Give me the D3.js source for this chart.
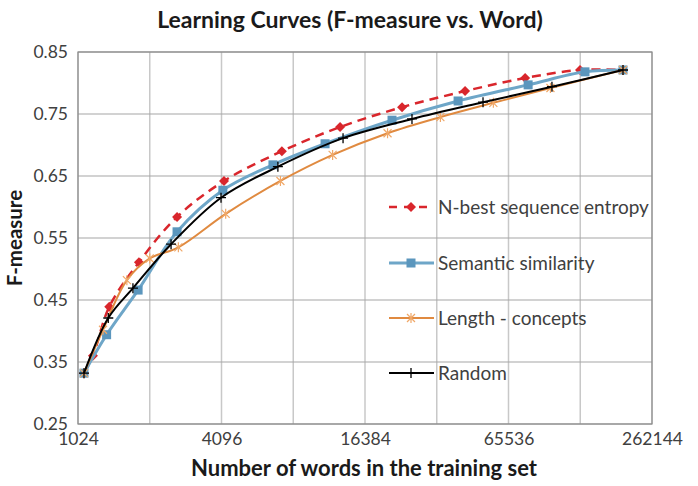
<!DOCTYPE html>
<html>
<head>
<meta charset="utf-8">
<script src="https://cdn.jsdelivr.net/npm/d3@7"></script>
<style>
  body { margin: 0; background: #fff; }
  text { font-family: Lato, "Open Sans", sans-serif; }
</style>
</head>
<body>
<div id="chart"></div>
<script>
'use strict';

// values
var xTicks = [1024, 4096, 16384, 65536, 262144];
var xGrid = [1024, 2048, 4096, 8192, 16384, 32768, 65536, 131072, 262144];
var yTicks = [0.25, 0.35, 0.45, 0.55, 0.65, 0.75, 0.85];

var nbestWords = [1085, 1183, 1385, 1845, 2666, 4197, 7340, 12877, 23433, 43082, 76960, 130740, 198100];
var nbestF = [0.332, 0.360, 0.439, 0.511, 0.584, 0.642, 0.690, 0.729, 0.761, 0.787, 0.808, 0.821, 0.821];

var semWords = [1085, 1350, 1830, 2666, 4150, 6733, 11141, 21270, 40269, 79220, 137180, 198100];
var semF = [0.332, 0.394, 0.466, 0.560, 0.627, 0.668, 0.702, 0.740, 0.771, 0.797, 0.818, 0.821];

var lenWords = [1085, 1304, 1642, 2048, 2700, 4265, 7238, 11983, 20371, 33943, 56620, 98280, 198100];
var lenF = [0.332, 0.402, 0.482, 0.517, 0.535, 0.589, 0.642, 0.684, 0.719, 0.745, 0.768, 0.792, 0.821];

var randWords = [1085, 1372, 1741, 2516, 4077, 7062, 13253, 25796, 51236, 99720, 198100];
var randF = [0.332, 0.421, 0.469, 0.540, 0.615, 0.665, 0.711, 0.742, 0.769, 0.794, 0.821];

var seriesNames = ['N-best sequence entropy', 'Semantic similarity', 'Length - concepts', 'Random'];

var width = 698, height = 486;
var margin = {top: 52, right: 46, bottom: 62, left: 78};
var w = width - margin.left - margin.right;
var h = height - margin.top - margin.bottom;

var svg = d3.select('#chart').append('svg')
  .attr('width', width)
  .attr('height', height);

var g = svg.append('g')
  .attr('transform', 'translate(' + margin.left + ',' + margin.top + ')');

var x = d3.scaleLog().base(2)
  .domain([1024, 262144])
  .range([0, w]);

var y = d3.scaleLinear()
  .domain([0.25, 0.85])
  .range([h, 0]);

// grid
g.selectAll('.vgrid')
  .data(xGrid)
  .enter()
  .append('line')
  .attr('x1', function(d) { return x(d) })
  .attr('x2', function(d) { return x(d) })
  .attr('y1', 0)
  .attr('y2', h)
  .attr('stroke', '#c8c8c8')
  .attr('stroke-width', 1.5);

g.selectAll('.hgrid')
  .data(yTicks)
  .enter()
  .append('line')
  .attr('x1', 0)
  .attr('x2', w)
  .attr('y1', function(d) { return y(d) })
  .attr('y2', function(d) { return y(d) })
  .attr('stroke', '#a6a6a6')
  .attr('stroke-width', 1.2);

g.append('rect')
  .attr('width', w)
  .attr('height', h)
  .attr('fill', 'none')
  .attr('stroke', '#8c8c8c')
  .attr('stroke-width', 1.2);

// axes
var xAxis = g.append('g')
  .attr('transform', 'translate(0,' + h + ')')
  .call(d3.axisBottom(x).tickValues(xTicks).tickFormat(d3.format('d')).tickSize(0).tickPadding(9));

var yAxis = g.append('g')
  .call(d3.axisLeft(y).tickValues(yTicks).tickFormat(d3.format('.2f')).tickSize(0).tickPadding(10));

[xAxis, yAxis].forEach(function(a) {
  a.select('.domain').remove();
  a.selectAll('text')
    .style('font-family', 'Lato, sans-serif')
    .style('font-size', '17.5px')
    .attr('fill', '#404040');
});

// titles
svg.append('text')
  .attr('x', 350)
  .attr('y', 28)
  .attr('text-anchor', 'middle')
  .style('font-size', '23px')
  .style('font-weight', 'bold')
  .attr('fill', '#1a1a1a')
  .text('Learning Curves (F-measure vs. Word)');

svg.append('text')
  .attr('x', 364)
  .attr('y', 476)
  .attr('text-anchor', 'middle')
  .style('font-size', '22px')
  .style('font-weight', 'bold')
  .attr('fill', '#1a1a1a')
  .text('Number of words in the training set');

svg.append('text')
  .attr('transform', 'translate(22,' + (margin.top + h / 2) + ') rotate(-90)')
  .attr('text-anchor', 'middle')
  .style('font-size', '20.5px')
  .style('font-weight', 'bold')
  .attr('fill', '#1a1a1a')
  .text('F-measure');

// series
var line = d3.line()
  .x(function(d) { return x(d[0]) })
  .y(function(d) { return y(d[1]) })
  .curve(d3.curveCatmullRom.alpha(0.5));

var series = [
  {name: seriesNames[0], words: nbestWords, f: nbestF, color: '#d9262c', width: 2.5, dash: '9,6', marker: 'diamond'},
  {name: seriesNames[1], words: semWords, f: semF, color: '#6ea6c8', width: 3, dash: null, marker: 'square'},
  {name: seriesNames[2], words: lenWords, f: lenF, color: '#e08a40', width: 2, dash: null, marker: 'star'},
  {name: seriesNames[3], words: randWords, f: randF, color: '#000000', width: 2, dash: null, marker: 'plus'}
];

function drawMarker(sel, type, color) {
  if (type === 'diamond') {
    sel.append('path').attr('d', 'M0,-5L5,0L0,5L-5,0Z').attr('fill', color);
  } else if (type === 'square') {
    sel.append('rect').attr('x', -4.5).attr('y', -4.5).attr('width', 9).attr('height', 9).attr('fill', '#5b96bd');
  } else if (type === 'star') {
    sel.append('path').attr('d', 'M-4,-4L4,4M-4,4L4,-4M0,-5L0,5').attr('stroke', '#f0a868').attr('stroke-width', 1.2);
  } else {
    sel.append('path').attr('d', 'M-5,0L5,0M0,-5L0,5').attr('stroke', color).attr('stroke-width', 1.3);
  }
}

series.forEach(function(s) {
  var pts = s.words.map(function(d, i) { return [d, s.f[i]] });
  g.append('path')
    .datum(pts)
    .attr('d', line)
    .attr('fill', 'none')
    .attr('stroke', s.color)
    .attr('stroke-width', s.width)
    .attr('stroke-dasharray', s.dash);

  g.selectAll(null)
    .data(pts)
    .enter()
    .append('g')
    .attr('transform', function(d) { return 'translate(' + x(d[0]) + ',' + y(d[1]) + ')' })
    .each(function() { drawMarker(d3.select(this), s.marker, s.color) });
});

// legend
var legendY = [207, 263, 318, 373];

var legend = g.selectAll('.legend')
  .data(series)
  .enter()
  .append('g')
  .attr('transform', function(d, i) { return 'translate(' + (389 - margin.left) + ',' + (legendY[i] - margin.top) + ')' });

legend.append('line')
  .attr('x1', 0)
  .attr('x2', 45)
  .attr('stroke', function(d) { return d.color })
  .attr('stroke-width', function(d) { return d.width })
  .attr('stroke-dasharray', function(d) { return d.dash ? '8,7' : null });

legend.append('g')
  .attr('transform', 'translate(22,0)')
  .each(function(d) { drawMarker(d3.select(this), d.marker, d.color) });

legend.append('text')
  .attr('x', 49)
  .attr('dy', '0.35em')
  .style('font-size', '19px')
  .attr('fill', '#404040')
  .text(function(d) { return d.name });
</script>
</body>
</html>
